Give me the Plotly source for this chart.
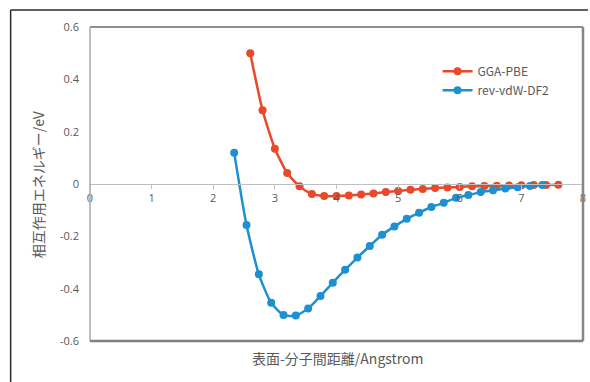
import plotly.graph_objects as go

# Data
pbe_x = [2.6, 2.8, 3.0, 3.2, 3.4, 3.6, 3.8, 4.0, 4.2, 4.4, 4.6, 4.8, 5.0,
         5.2, 5.4, 5.6, 5.8, 6.0, 6.2, 6.4, 6.6, 6.8, 7.0, 7.2, 7.4, 7.6]
pbe_y = [0.50, 0.282, 0.135, 0.042, -0.009, -0.038, -0.046, -0.046, -0.044,
         -0.040, -0.036, -0.031, -0.027, -0.022, -0.019, -0.015, -0.013,
         -0.011, -0.009, -0.008, -0.007, -0.006, -0.005, -0.004, -0.004, -0.003]

vdw_x = [2.34, 2.54, 2.74, 2.94, 3.14, 3.34, 3.54, 3.74, 3.94, 4.14, 4.34,
         4.54, 4.74, 4.94, 5.14, 5.34, 5.54, 5.74, 5.94, 6.14, 6.34, 6.54,
         6.74, 6.94, 7.14, 7.34]
vdw_y = [0.119, -0.157, -0.345, -0.454, -0.501, -0.503, -0.476, -0.428,
         -0.377, -0.328, -0.281, -0.237, -0.194, -0.162, -0.133, -0.110,
         -0.088, -0.072, -0.053, -0.042, -0.031, -0.024, -0.017, -0.012,
         -0.008, -0.004]

x_ticks = [0, 1, 2, 3, 4, 5, 6, 7, 8]
y_ticks = [0.6, 0.4, 0.2, 0, -0.2, -0.4, -0.6]
y_tick_text = ["0.6", "0.4", "0.2", "0", "-0.2", "-0.4", "-0.6"]

series_names = ["GGA-PBE", "rev-vdW-DF2"]
colors = ["#E8492A", "#1C90D0"]

x_title = "表面-分子間距離/Angstrom"
y_title = "相互作用エネルギー/eV"

fig = go.Figure()
for name, xs, ys, c in [(series_names[0], pbe_x, pbe_y, colors[0]),
                        (series_names[1], vdw_x, vdw_y, colors[1])]:
    fig.add_trace(go.Scatter(
        x=xs, y=ys, name=name, mode="lines+markers",
        line=dict(color=c, width=2.5, shape="spline", smoothing=0.6),
        marker=dict(color=c, size=8),
    ))

gray_text = "#595959"
fig.update_layout(
    width=590, height=382,
    margin=dict(l=90, r=4, t=27, b=41),
    paper_bgcolor="#FFFFFF",
    plot_bgcolor="#FFFFFF",
    font=dict(family="Noto Sans CJK JP, Open Sans, sans-serif", color=gray_text, size=11),
    showlegend=True,
    legend=dict(x=0.705, y=0.905, xanchor="left", yanchor="top",
                bgcolor="rgba(255,255,255,0)", font=dict(size=12, color=gray_text),
                itemwidth=30, tracegroupgap=6),
    xaxis=dict(range=[0, 8], tickvals=x_ticks, anchor="free", position=0.5,
               showline=True, linecolor="#BFBFBF", linewidth=1,
               ticks="outside", ticklen=4, tickcolor="#BFBFBF",
               ticklabeloverflow="allow",
               showgrid=False, zeroline=False,
               tickfont=dict(family="Open Sans, sans-serif", size=11, color=gray_text)),
    yaxis=dict(range=[-0.6, 0.6], tickvals=y_ticks, ticktext=y_tick_text,
               showgrid=False, zeroline=False, showline=False, ticks="",
               ticklabelstandoff=10,
               tickfont=dict(family="Open Sans, sans-serif", size=11, color=gray_text)),
    shapes=[
        # plot-area frame
        dict(type="line", xref="paper", yref="paper", x0=0, x1=1, y0=1, y1=1,
             line=dict(color="#6A6A6A", width=1.5)),
        dict(type="line", xref="paper", yref="paper", x0=0, x1=0, y0=0, y1=1,
             line=dict(color="#A8A8A8", width=1.5)),
        dict(type="line", xref="paper", yref="paper", x0=1, x1=1, y0=0, y1=1,
             line=dict(color="#858585", width=2.5)),
        dict(type="line", xref="paper", yref="paper", x0=0, x1=1, y0=0, y1=0,
             line=dict(color="#808080", width=2.5)),
        # outer chart frame
        dict(type="line", xref="paper", yref="paper", x0=-0.161, x1=1.01, y0=1.054, y1=1.054,
             line=dict(color="#2A2A2A", width=1.5)),
        dict(type="line", xref="paper", yref="paper", x0=-0.161, x1=-0.161, y0=-0.2, y1=1.054,
             line=dict(color="#2A2A2A", width=1.5)),
    ],
    annotations=[
        dict(text=x_title, xref="paper", yref="paper", x=0.503, y=-0.016,
             xanchor="center", yanchor="top", showarrow=False,
             font=dict(size=14, color=gray_text)),
        dict(text=y_title, xref="paper", yref="paper", x=-0.105, y=0.5,
             xanchor="center", yanchor="middle", showarrow=False, textangle=-90,
             font=dict(size=14, color=gray_text)),
    ],
)

fig.write_html(
    "out.html",
    config={"displayModeBar": False},
    post_script="document.body.style.margin='0';document.body.style.overflow='hidden';",
)
